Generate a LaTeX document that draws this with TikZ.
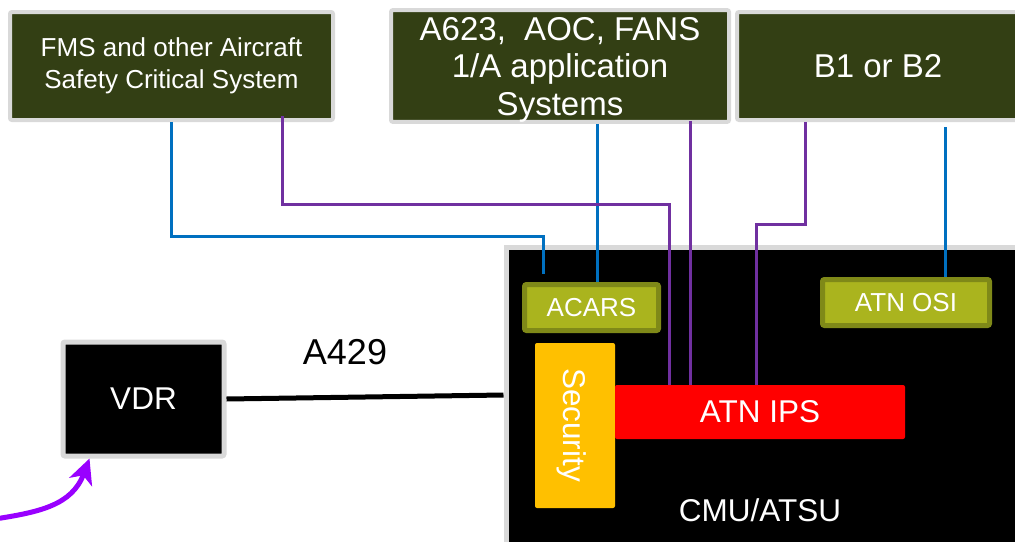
\documentclass[tikz,border=0pt]{standalone}
\usepackage{fontspec}
\setmainfont{Liberation Sans}
\usetikzlibrary{calc,arrows.meta}
\definecolor{olivebox}{RGB}{51,63,20}
\definecolor{grayedge}{RGB}{217,217,217}
\definecolor{limefill}{RGB}{170,180,30}
\definecolor{limeedge}{RGB}{127,137,24}
\definecolor{secyellow}{RGB}{255,192,0}
\definecolor{linkblue}{RGB}{0,112,192}
\definecolor{linkpurple}{RGB}{112,48,160}
\definecolor{arrowpurple}{RGB}{153,0,255}
\begin{document}
\begin{tikzpicture}[x=1pt,y=-1pt,
  topbox/.style={draw=grayedge,fill=olivebox,line width=4pt,rounded corners=2pt,inner sep=0pt,text=white,align=center},
  limebox/.style={draw=limeedge,fill=limefill,line width=5pt,rounded corners=2pt,inner sep=0pt,text=white,font=\fontsize{26}{30}\selectfont},
  blueline/.style={draw=linkblue,line width=3pt},
  purpleline/.style={draw=linkpurple,line width=3pt},
]
\useasboundingbox (0,0) rectangle (1015,541);
\clip (0,0) rectangle (1015,541);

% top boxes
\node[topbox,minimum width=323pt,minimum height=108pt,font=\fontsize{26}{32}\selectfont] (fms) at (171.5,66) {FMS and other Aircraft\\Safety Critical System};
\node[topbox,minimum width=338pt,minimum height=108pt,font=\fontsize{33}{37.5}\selectfont] (a623) at (560,66) {\rule{0pt}{30pt}A623,\ \ AOC, FANS\\1/A application\\Systems};
\node[topbox,minimum width=282pt,minimum height=108pt,font=\fontsize{33}{38}\selectfont] (b1) at (878,66) {B1 or B2};

% CMU/ATSU box
\node[draw=grayedge,fill=black,line width=5pt,inner sep=0pt,anchor=north west,minimum width=700pt,minimum height=400pt] (cmu) at (503.5,244.5) {};
\node[text=white,font=\fontsize{31.5}{36}\selectfont] (cmulabel) at (760,510) {CMU/ATSU};

% inner boxes
\node[limebox,minimum width=134pt,minimum height=46pt] (acars) at (591.5,307.5) {ACARS};
\node[limebox,minimum width=167pt,minimum height=46pt] (atnosi) at (906,302.5) {ATN OSI};
\node[fill=secyellow,rounded corners=2pt,minimum width=80pt,minimum height=165pt,inner sep=0pt] (sec) at (575,425.5) {};
\node[text=white,rotate=-90,font=\fontsize{31.5}{36}\selectfont] (seclabel) at (572,425) {Security};
\node[fill=red,rounded corners=2pt,minimum width=290pt,minimum height=54pt,inner sep=0pt,text=white,font=\fontsize{31.5}{36}\selectfont] (atnips) at (760,412) {ATN IPS};

% VDR
\node[draw=grayedge,fill=black,line width=5pt,rounded corners=2pt,minimum width=161pt,minimum height=114pt,inner sep=0pt,text=white,font=\fontsize{31.5}{36}\selectfont] (vdr) at (143.5,399) {VDR};
\node[font=\fontsize{36}{40}\selectfont] (a429) at (345,352) {A429};

% A429 link
\draw[line width=5pt] (vdr.east) -- (cmu.west |- 0,395);

% blue links
\draw[blueline] (fms.south) -- ++(0,114) -| ($(acars.north west)+(21,-8)$);
\draw[blueline] ($(a623.south)+(37,0)$) coordinate (bl2) -- (bl2 |- acars.north);
\draw[blueline] ($(b1.south)+(67,5)$) coordinate (bl3) -- (bl3 |- atnosi.north);

% purple links
\draw[purpleline] ($(fms.south)+(110.5,-6)$) -- ++(0,88) -| ($(atnips.north west)+(55,0)$);
\draw[purpleline] ($(a623.south)+(130,-3)$) coordinate (pl2) -- (pl2 |- atnips.north);
\draw[purpleline] ($(b1.south)+(-73,0)$) -- ++(0,102) -| ($(atnips.north west)+(142,0)$);

% purple arrow into VDR
\coordinate (arrstart) at (-5,519);
\draw[arrowpurple,line width=5pt,-{Stealth[length=25pt,width=24pt,inset=7pt]}] (arrstart) .. controls (40,512) and (72,505) .. ($(vdr.south west)+(29,0)$);
\end{tikzpicture}
\end{document}
